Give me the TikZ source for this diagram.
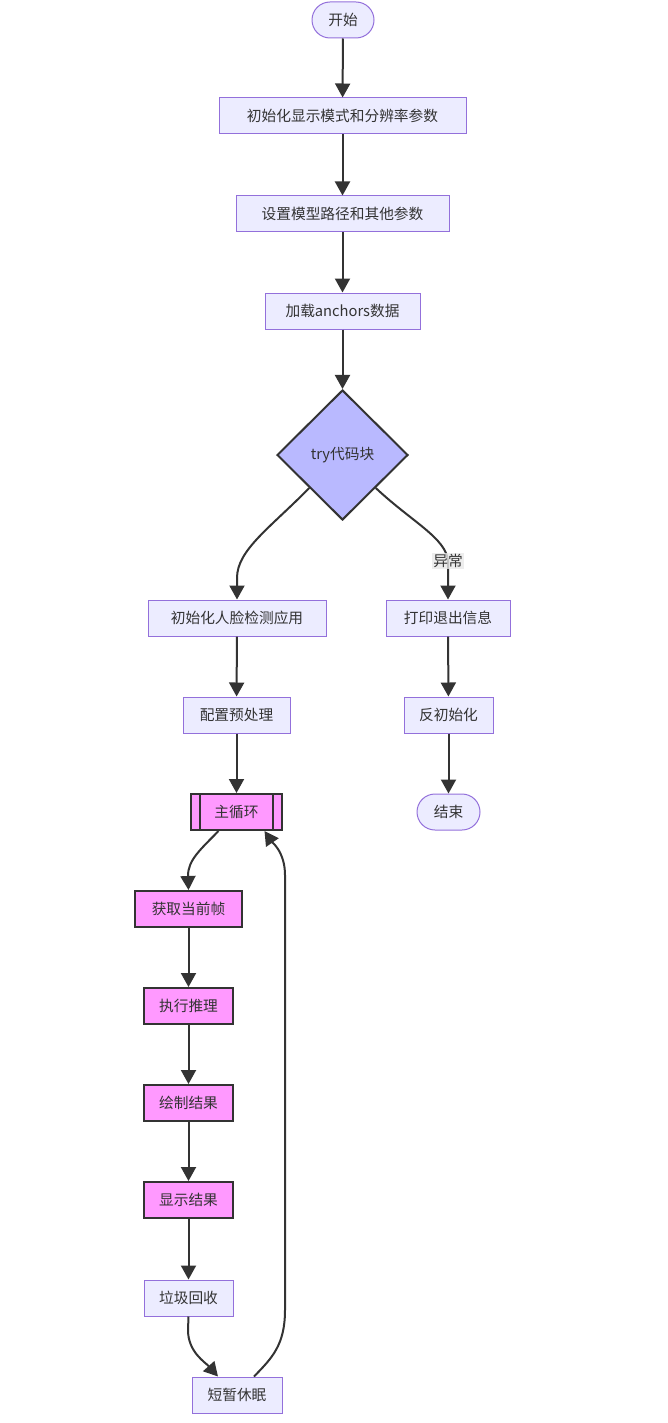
\documentclass[tikz,border=0pt]{standalone}
\usepackage{fontspec}
\setmainfont{Noto Sans CJK SC}
\usetikzlibrary{shapes.geometric,shapes.misc,arrows.meta}
\definecolor{nfill}{HTML}{ECECFF}
\definecolor{nstroke}{HTML}{9370DB}
\definecolor{dark}{HTML}{333333}
\definecolor{dfill}{HTML}{B9B9FF}
\definecolor{pfill}{HTML}{FF99FF}
\definecolor{lblbg}{HTML}{E8E8E8}
\tikzset{
  base/.style={font=\fontsize{14.7pt}{17pt}\selectfont, text=dark, inner sep=0pt, minimum height=36pt},
  box/.style={base, rectangle, draw=nstroke, fill=nfill, line width=1pt},
  term/.style={base, rounded rectangle, draw=nstroke, fill=nfill, line width=1pt},
  pbox/.style={base, rectangle, draw=dark, fill=pfill, line width=2pt},
  dec/.style={base, diamond, draw=dark, fill=dfill, line width=2pt, minimum width=131pt, minimum height=130pt},
  arr/.style={draw=dark, line width=2pt, -{Triangle[length=14pt,width=15pt]}},
  lbl/.style={font=\fontsize{14.7pt}{17pt}\selectfont, text=dark, fill=lblbg, fill opacity=0.8, text opacity=1, inner sep=1pt}
}
\begin{document}
\begin{tikzpicture}[x=1pt,y=-1pt]
\useasboundingbox (0,0) rectangle (667,1423);
\node[term, minimum width=62pt] (s) at (343,20) {开始};
\node[box, minimum width=247pt] (a) at (342.5,116) {初始化显示模式和分辨率参数};
\node[box, minimum width=213pt] (b) at (342.5,214) {设置模型路径和其他参数};
\node[box, minimum width=155pt] (c) at (342.5,311) {加载anchors数据};
\node[dec] (d) at (342.5,455) {try代码块};
\node[box, minimum width=178pt] (e) at (237,618) {初始化人脸检测应用};
\node[box, minimum width=124pt] (x) at (448,618) {打印退出信息};
\node[box, minimum width=107pt] (g) at (236.5,715) {配置预处理};
\node[box, minimum width=89pt] (y) at (448.5,715) {反初始化};
\node[pbox, minimum width=91pt] (m) at (236.5,812) {主循环};
\draw[dark, line width=2pt] ([xshift=10pt]m.north west) -- ([xshift=10pt]m.south west);
\draw[dark, line width=2pt] ([xshift=-10pt]m.north east) -- ([xshift=-10pt]m.south east);
\node[term, minimum width=63pt] (z) at (448.5,812) {结束};
\node[pbox, minimum width=107pt] (f1) at (188.5,909) {获取当前帧};
\node[pbox, minimum width=89pt] (f2) at (188.5,1006) {执行推理};
\node[pbox, minimum width=89pt] (f3) at (188.5,1103) {绘制结果};
\node[pbox, minimum width=89pt] (f4) at (188.5,1200) {显示结果};
\node[box, minimum width=89pt] (f5) at (188.5,1298) {垃圾回收};
\node[box, minimum width=90pt] (f6) at (237,1395) {短暂休眠};

\draw[arr] (s) -- (a);
\draw[arr] (a) -- (b);
\draw[arr] (b) -- (c);
\draw[arr] (c) -- (d);
\draw[arr] (d.south west) .. controls (270,528) and (237,550) .. (237,578) -- (e.north);
\draw[arr] (d.south east) .. controls (412,522) and (446,538) .. (448,561)
  node[lbl] (lab) {异常} -- (x.north);
\draw[arr] (e) -- (g);
\draw[arr] (x) -- (y);
\draw[arr] (g) -- (m);
\draw[arr] (y) -- (z);
\draw[arr] ([xshift=-18pt]m.south) .. controls (200,850) and (188,860) .. (188,876) -- (f1.north);
\draw[arr] (f1) -- (f2);
\draw[arr] (f2) -- (f3);
\draw[arr] (f3) -- (f4);
\draw[arr] (f4) -- (f5);
\draw[arr] (f5.south) -- (188,1330) .. controls (188,1352) and (205,1362) .. ([xshift=-19pt]f6.north);
\draw[arr] ([xshift=17pt]f6.north) .. controls (272,1358) and (285,1345) .. (285,1310) -- (285,875) .. controls (285,852) and (272,842) .. ([xshift=28pt]m.south);
\end{tikzpicture}
\end{document}
